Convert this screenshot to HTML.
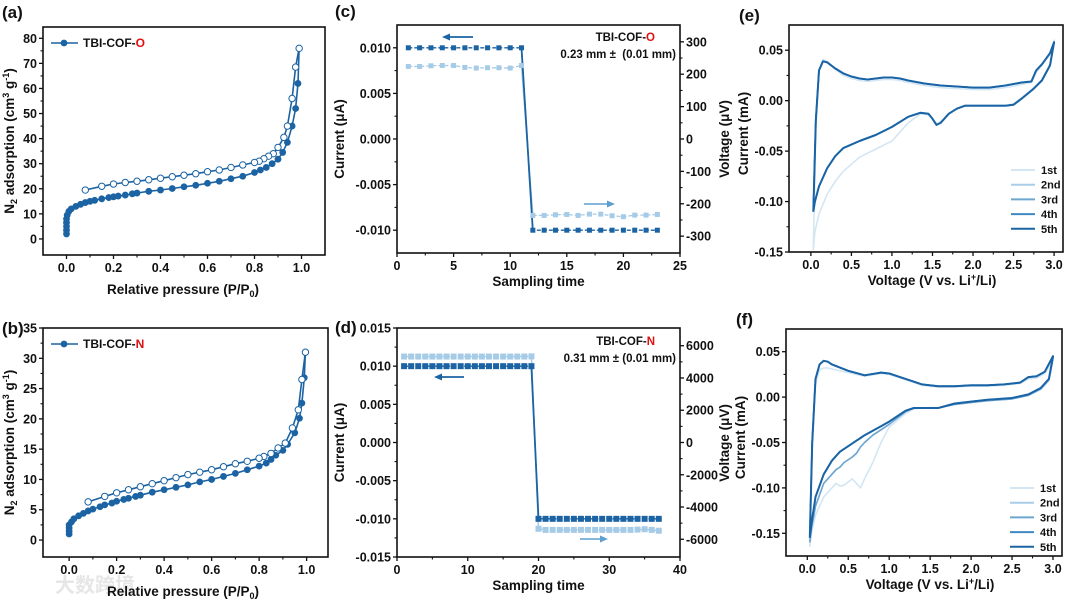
<!DOCTYPE html>
<html><head><meta charset="utf-8">
<style>
html,body{margin:0;padding:0;background:#fff;}
svg{display:block;font-family:"Liberation Sans",Arial,"Noto Sans CJK SC",sans-serif;font-weight:bold;}
</style></head>
<body>
<svg id="fig" width="1080" height="606" viewBox="0 0 1080 606" xmlns="http://www.w3.org/2000/svg">
<text x="55" y="592" font-size="20" fill="#e6e6e6">大数跨境</text>
</svg>
<script>
// ---------- Panel (a) data ----------
const aAdsX=[0,0,0,0,0,0.003,0.01,0.02,0.04,0.06,0.08,0.1,0.12,0.15,0.18,0.2,0.22,0.25,0.28,0.3,0.35,0.4,0.45,0.5,0.55,0.6,0.65,0.7,0.75,0.8,0.825,0.85,0.875,0.9,0.92,0.94,0.96,0.975,0.985,0.99];
const aAdsY=[2,3.5,5,6.5,8,9.5,11,12,13,13.8,14.5,15,15.4,16,16.5,16.8,17.1,17.5,18,18.3,19,19.5,20.1,20.8,21.4,22.2,23,24,25,26.5,27.5,28.5,30,31.8,34.5,38.5,45,52,62,76];
const aDesX=[0.99,0.975,0.96,0.94,0.925,0.9,0.88,0.86,0.84,0.82,0.8,0.75,0.7,0.65,0.6,0.55,0.5,0.45,0.4,0.35,0.3,0.25,0.2,0.15,0.08];
const aDesY=[76,68.5,56,45,40.5,36.5,34,33,32,31,30.5,29.5,28.5,27.5,26.8,26,25.4,24.8,24.2,23.6,23,22.5,21.9,21,19.5];
const aXTicks=[0,0.2,0.4,0.6,0.8,1.0];
const aXLabels=["0.0","0.2","0.4","0.6","0.8","1.0"];
const aYTicks=[0,10,20,30,40,50,60,70,80];
const aYLabels=["0","10","20","30","40","50","60","70","80"];
// ---------- Panel (b) data ----------
const bAdsX=[0,0,0,0,0.01,0.02,0.04,0.06,0.08,0.1,0.13,0.15,0.18,0.2,0.23,0.25,0.28,0.3,0.35,0.4,0.45,0.5,0.55,0.6,0.65,0.7,0.75,0.8,0.83,0.85,0.87,0.9,0.92,0.95,0.97,0.98,0.99,0.995];
const bAdsY=[1,1.5,2,2.5,3,3.5,4,4.4,4.8,5.1,5.5,5.8,6.1,6.4,6.7,6.9,7.2,7.4,7.9,8.3,8.7,9.1,9.6,10,10.5,11,11.6,12.2,12.7,13.3,14,14.8,15.8,17.7,20.1,22.6,26.8,31];
const bDesX=[0.995,0.98,0.965,0.94,0.91,0.88,0.85,0.82,0.8,0.75,0.7,0.65,0.6,0.55,0.5,0.45,0.4,0.35,0.3,0.25,0.2,0.15,0.08];
const bDesY=[31,26.5,21.5,18.5,16,15.2,14.3,13.8,13.5,13,12.6,12.1,11.6,11.2,10.8,10.3,9.8,9.3,8.8,8.3,7.8,7.2,6.3];
const bYTicks=[0,5,10,15,20,25,30,35];
const bYLabels=["0","5","10","15","20","25","30","35"];
// ---------- Panel (c) data ----------
const cT=[1,2,3,4,5,6,7,8,9,10,11,12,13,14,15,16,17,18,19,20,21,22,23];
const cCurrent=[0.01,0.01,0.01,0.01,0.01,0.01,0.01,0.01,0.01,0.01,0.01,-0.01,-0.01,-0.01,-0.01,-0.01,-0.01,-0.01,-0.01,-0.01,-0.01,-0.01,-0.01];
const cVoltage=[224,224,226,227,227,221,219,220,220,219,227,-236,-236,-234,-233,-236,-232,-232,-237,-240,-235,-235,-233];
const cXTicks=[0,5,10,15,20,25];
const cYTicks=[0.01,0.005,0,-0.005,-0.01];
const cYLabels=["0.010","0.005","0.000","-0.005","-0.010"];
const cRTicks=[300,200,100,0,-100,-200,-300];
const cRLabels=["300","200","100","0","-100","-200","-300"];
// ---------- Panel (d) data ----------
const dT=[1,2,3,4,5,6,7,8,9,10,11,12,13,14,15,16,17,18,19,20,21,22,23,24,25,26,27,28,29,30,31,32,33,34,35,36,37];
const dCurrent=[0.01,0.01,0.01,0.01,0.01,0.01,0.01,0.01,0.01,0.01,0.01,0.01,0.01,0.01,0.01,0.01,0.01,0.01,0.01,-0.01,-0.01,-0.01,-0.01,-0.01,-0.01,-0.01,-0.01,-0.01,-0.01,-0.01,-0.01,-0.01,-0.01,-0.01,-0.01,-0.01,-0.01];
const dVoltage=[5330,5330,5330,5330,5330,5330,5330,5330,5330,5330,5330,5330,5330,5330,5330,5330,5330,5330,5340,-5350,-5420,-5420,-5420,-5420,-5420,-5420,-5420,-5420,-5420,-5420,-5420,-5420,-5420,-5400,-5380,-5420,-5470];
const dXTicks=[0,10,20,30,40];
const dYTicks=[0.015,0.01,0.005,0,-0.005,-0.01,-0.015];
const dYLabels=["0.015","0.010","0.005","0.000","-0.005","-0.010","-0.015"];
const dRTicks=[6000,4000,2000,0,-2000,-4000,-6000];
const dRLabels=["6000","4000","2000","0","-2000","-4000","-6000"];
// ---------- Panel (e) data ----------
const eUpV=[0.03,0.06,0.1,0.15,0.2,0.3,0.4,0.5,0.6,0.7,0.8,0.9,1.0,1.1,1.2,1.4,1.6,1.8,2.0,2.2,2.4,2.6,2.72,2.78,2.85,2.95,3.0];
const eUpI5=[-0.11,-0.02,0.03,0.039,0.038,0.032,0.027,0.024,0.022,0.021,0.022,0.023,0.023,0.022,0.02,0.017,0.015,0.014,0.013,0.013,0.015,0.018,0.019,0.03,0.036,0.047,0.058];
const eUpI1=[-0.148,-0.03,0.03,0.041,0.039,0.031,0.025,0.022,0.02,0.019,0.02,0.021,0.021,0.02,0.018,0.015,0.013,0.012,0.011,0.011,0.013,0.016,0.018,0.028,0.035,0.046,0.06];
const eLoV=[3.0,2.95,2.85,2.75,2.6,2.5,2.4,2.2,2.0,1.9,1.8,1.7,1.6,1.55,1.5,1.45,1.35,1.2,1.0,0.8,0.6,0.4,0.3,0.2,0.1,0.05,0.03];
const eLoI5=[0.058,0.035,0.02,0.012,0.002,-0.004,-0.005,-0.005,-0.005,-0.005,-0.008,-0.013,-0.022,-0.024,-0.018,-0.013,-0.012,-0.016,-0.026,-0.034,-0.04,-0.047,-0.055,-0.067,-0.085,-0.1,-0.11];
const eLoI1=[0.06,0.036,0.021,0.013,0.003,-0.003,-0.005,-0.005,-0.005,-0.005,-0.008,-0.013,-0.021,-0.023,-0.018,-0.014,-0.013,-0.022,-0.04,-0.048,-0.056,-0.07,-0.08,-0.093,-0.112,-0.13,-0.148];
const eXTicks=[0,0.5,1,1.5,2,2.5,3];
const eXLabels=["0.0","0.5","1.0","1.5","2.0","2.5","3.0"];
const eYTicks=[0.05,0,-0.05,-0.1,-0.15];
const eYLabels=["0.05","0.00","-0.05","-0.10","-0.15"];
// ---------- Panel (f) data ----------
const fUpV=[0.03,0.06,0.1,0.15,0.2,0.25,0.3,0.5,0.7,0.9,1.0,1.2,1.4,1.6,1.8,2.0,2.2,2.4,2.6,2.7,2.8,2.9,3.0];
const fUpI5=[-0.155,-0.05,0.02,0.036,0.04,0.039,0.036,0.029,0.024,0.027,0.026,0.02,0.014,0.012,0.012,0.013,0.013,0.014,0.016,0.022,0.023,0.028,0.045];
const fUpI1=[-0.165,-0.06,0.015,0.03,0.032,0.032,0.031,0.027,0.023,0.026,0.025,0.019,0.013,0.011,0.011,0.012,0.012,0.013,0.015,0.02,0.021,0.026,0.04];
const fLoV=[3.0,2.95,2.85,2.7,2.5,2.2,2.0,1.8,1.6,1.4,1.3,1.2,1.0,0.9,0.8,0.7,0.65,0.6,0.55,0.45,0.4,0.35,0.3,0.2,0.1,0.05,0.03];
const fLoI5=[0.045,0.02,0.01,0.003,-0.001,-0.003,-0.005,-0.007,-0.012,-0.012,-0.012,-0.015,-0.027,-0.032,-0.037,-0.042,-0.045,-0.048,-0.051,-0.057,-0.06,-0.065,-0.07,-0.085,-0.11,-0.14,-0.155];
const fLoI2=[0.043,0.019,0.009,0.002,-0.002,-0.004,-0.006,-0.008,-0.012,-0.012,-0.012,-0.016,-0.03,-0.036,-0.042,-0.05,-0.055,-0.062,-0.066,-0.072,-0.077,-0.08,-0.085,-0.095,-0.12,-0.145,-0.16];
const fLoI1=[0.04,0.018,0.008,0.002,-0.002,-0.004,-0.006,-0.008,-0.012,-0.012,-0.013,-0.018,-0.033,-0.05,-0.072,-0.09,-0.1,-0.095,-0.09,-0.097,-0.098,-0.095,-0.1,-0.11,-0.13,-0.15,-0.165];
const fYTicks=[0.05,0,-0.05,-0.1,-0.15];
const fYLabels=["0.05","0.00","-0.05","-0.10","-0.15"];

const DARK="#1b63a3", LIGHT="#a6cbe6";
const CV=["#d3e6f4","#a9cde8","#6fa6d0","#3f88c3","#1a64a6"];
const svg=document.getElementById('fig');
const NS="http://www.w3.org/2000/svg";
function mk(tag,attrs,name,inter){
  const el=document.createElementNS(NS,tag);
  for(const k in attrs) el.setAttribute(k,attrs[k]);
  
  
  svg.appendChild(el);return el;
}
function txt(x,y,s,size,anchor,name,extra){
  const t=mk('text',Object.assign({x:x,y:y,'font-size':size,'text-anchor':anchor||'start',fill:'#111'},extra||{}),name,false);
  t.innerHTML=s;return t;
}
function scX(p,v){return p.x0+(v-p.xmin)/(p.xmax-p.xmin)*(p.x1-p.x0);}
function scY(p,v){return p.y1-(v-p.ymin)/(p.ymax-p.ymin)*(p.y1-p.y0);}
function scR(p,v){return p.y1-(v-p.rmin)/(p.rmax-p.rmin)*(p.y1-p.y0);}
function frame(p,id){
  mk('rect',{x:p.x0,y:p.y0,width:p.x1-p.x0,height:p.y1-p.y0,fill:'none',stroke:'#111','stroke-width':1.6},id+'-plot-frame',false);
}
function xAxis(p,ticks,labels,id){
  ticks.forEach((v,i)=>{const x=scX(p,v);
    mk('line',{x1:x,x2:x,y1:p.y1,y2:p.y1+4,stroke:'#111','stroke-width':1.3},id+'-x-tick',false);
    txt(x,p.y1+17,labels[i],12.5,'middle',id+'-x-tick-label');
    if(i<ticks.length-1){const xm=scX(p,(v+ticks[i+1])/2);
      mk('line',{x1:xm,x2:xm,y1:p.y1,y2:p.y1+2.5,stroke:'#111','stroke-width':1.1},id+'-x-minor-tick',false);}
  });
}
function yAxis(p,ticks,labels,id){
  ticks.forEach((v,i)=>{const y=scY(p,v);
    mk('line',{x1:p.x0-4,x2:p.x0,y1:y,y2:y,stroke:'#111','stroke-width':1.3},id+'-y-tick',false);
    txt(p.x0-6,y+4.5,labels[i],12.5,'end',id+'-y-tick-label');
    if(i<ticks.length-1){const ym=scY(p,(v+ticks[i+1])/2);
      mk('line',{x1:p.x0-2.5,x2:p.x0,y1:ym,y2:ym,stroke:'#111','stroke-width':1.1},id+'-y-minor-tick',false);}
  });
}
function rAxis(p,ticks,labels,id){
  ticks.forEach((v,i)=>{const y=scR(p,v);
    mk('line',{x1:p.x1,x2:p.x1+4,y1:y,y2:y,stroke:'#111','stroke-width':1.3},id+'-right-tick',false);
    txt(p.x1+6,y+4.5,labels[i],12.5,'start',id+'-right-tick-label');
    if(i<ticks.length-1){const ym=scR(p,(v+ticks[i+1])/2);
      mk('line',{x1:p.x1,x2:p.x1+2.5,y1:ym,y2:ym,stroke:'#111','stroke-width':1.1},id+'-right-minor-tick',false);}
  });
}
function ytitle(x,y,s,id){txt(0,0,s,13.5,'middle',id,{transform:'translate('+x+','+y+') rotate(-90)'});}
function poly(pts,attrs,name){mk('polyline',Object.assign({points:pts.map(q=>q[0].toFixed(1)+','+q[1].toFixed(1)).join(' '),fill:'none'},attrs),name,false);}

// ===== (a) =====
const pa={x0:43,x1:325,y0:27,y1:255,xmin:-0.1,xmax:1.1,ymin:-6.4,ymax:84.5};
// ===== (b) =====
const pb={x0:43,x1:328,y0:328,y1:557,xmin:-0.11,xmax:1.09,ymin:-2.8,ymax:35};
function iso(p,ax,ay,dx,dy,xt,xl,yt,yl,id,leg,letter,lab){
  frame(p,id);xAxis(p,xt,xl,id);yAxis(p,yt,yl,id);
  poly(ax.map((v,i)=>[scX(p,v),scY(p,ay[i])]),{stroke:DARK,'stroke-width':1.6},id+'-adsorption-line');
  poly(dx.map((v,i)=>[scX(p,v),scY(p,dy[i])]),{stroke:DARK,'stroke-width':1.6},id+'-desorption-line');
  ax.forEach((v,i)=>mk('circle',{cx:scX(p,v),cy:scY(p,ay[i]),r:3.4,fill:DARK},id+'-adsorption-point',false));
  dx.forEach((v,i)=>mk('circle',{cx:scX(p,v),cy:scY(p,dy[i]),r:3.2,fill:'#fff',stroke:DARK,'stroke-width':1},id+'-desorption-point',false));
  mk('line',{x1:p.x0+8,x2:p.x0+35,y1:leg,y2:leg,stroke:DARK,'stroke-width':1.6},id+'-legend-line',false);
  mk('circle',{cx:p.x0+21,cy:leg,r:3.4,fill:DARK},id+'-legend-marker',false);
  txt(p.x0+40,leg+4,'TBI-COF-<tspan fill="#e01010">'+letter+'</tspan>',12,'start',id+'-legend-label');
  txt(p.x0+140,p.y1+39,'Relative pressure (P/P<tspan font-size="9" dy="3">0</tspan><tspan dy="-3">)</tspan>',13.5,'middle',id+'-x-axis-title');
  ytitle(p.x0-29,(p.y0+p.y1)/2,'N<tspan font-size="9" dy="3">2</tspan><tspan dy="-3"> adsorption (cm</tspan><tspan font-size="9" dy="-5">3</tspan><tspan dy="5"> g</tspan><tspan font-size="9" dy="-5">-1</tspan><tspan dy="5">)</tspan>',id+'-y-axis-title');
  txt(2,p.y0+(id==='panel-a'?-9:6),'('+lab+')',17,'start',id+'-label');
}
iso(pa,aAdsX,aAdsY,aDesX,aDesY,aXTicks,aXLabels,aYTicks,aYLabels,'panel-a',43,'O','a');
iso(pb,bAdsX,bAdsY,bDesX,bDesY,aXTicks,aXLabels,bYTicks,bYLabels,'panel-b',344,'N','b');

// ===== (c),(d) =====
const pc={x0:397,x1:680,y0:25,y1:253,xmin:0,xmax:25,ymin:-0.0125,ymax:0.0125,rmin:-352,rmax:352};
const pd={x0:397,x1:680,y0:328,y1:557,xmin:0,xmax:40,ymin:-0.015,ymax:0.015,rmin:-7100,rmax:7100};
function iv(p,t,cur,vol,xt,yt,yl,rt,rl,id,lab,letter,thick,arrows,annY){
  frame(p,id);xAxis(p,xt,xt.map(String),id);yAxis(p,yt,yl,id);rAxis(p,rt,rl,id);
  const vp=t.map((v,i)=>[scX(p,v),scR(p,vol[i])]);
  const cp=t.map((v,i)=>[scX(p,v),scY(p,cur[i])]);
  poly(vp,{stroke:LIGHT,'stroke-width':1.3,'stroke-dasharray':'4 2'},id+'-voltage-line');
  poly(cp,{stroke:DARK,'stroke-width':1.3,'stroke-dasharray':'4 2'},id+'-current-line');
  for(let i=0;i<t.length-1;i++){ if(cur[i]*cur[i+1]<0){
    poly([vp[i],vp[i+1]],{stroke:LIGHT,'stroke-width':1.5},id+'-voltage-jump');
    poly([cp[i],cp[i+1]],{stroke:DARK,'stroke-width':1.8},id+'-current-jump');}}
  const s=thick;
  vp.forEach(q=>mk('rect',{x:q[0]-s/2,y:q[1]-s/2,width:s,height:s,fill:LIGHT},id+'-voltage-point',false));
  cp.forEach(q=>mk('rect',{x:q[0]-s/2,y:q[1]-s/2,width:s,height:s,fill:DARK},id+'-current-point',false));
  const a1=arrows[0],a2=arrows[1];
  mk('line',{x1:a1[0]+5,x2:a1[1],y1:a1[2],y2:a1[2],stroke:DARK,'stroke-width':1.8},id+'-current-arrow',false);
  mk('polygon',{points:a1[0]+','+a1[2]+' '+(a1[0]+8)+','+(a1[2]-3.5)+' '+(a1[0]+8)+','+(a1[2]+3.5),fill:DARK},id+'-current-arrowhead',false);
  mk('line',{x1:a2[0],x2:a2[1]-5,y1:a2[2],y2:a2[2],stroke:'#5d9fd0','stroke-width':1.5},id+'-voltage-arrow',false);
  mk('polygon',{points:a2[1]+','+a2[2]+' '+(a2[1]-8)+','+(a2[2]-3.5)+' '+(a2[1]-8)+','+(a2[2]+3.5),fill:'#5d9fd0'},id+'-voltage-arrowhead',false);
  txt(p.x1-25,annY,'TBI-COF-<tspan fill="#e01010">'+letter+'</tspan>',11.5,'end',id+'-sample-label');
  txt(p.x1-4,annY+17,(id==='panel-c'?'0.23 mm ± &#160;(0.01 mm)':'0.31 mm ± (0.01 mm)'),11.5,'end',id+'-thickness-label');
  txt((p.x0+p.x1)/2,p.y1+33,'Sampling time',13.5,'middle',id+'-x-axis-title');
  ytitle(p.x0-53,(p.y0+p.y1)/2,'Current (μA)',id+'-y-axis-title');
  txt(p.x0-62,p.y0+(id==='panel-c'?-8:5),'('+lab+')',17,'start',id+'-label');
}
iv(pc,cT,cCurrent,cVoltage,cXTicks,cYTicks,cYLabels,cRTicks,cRLabels,'panel-c','c','O',5,[[442,473,37],[584,615,204]],41);
iv(pd,dT,dCurrent,dVoltage,dXTicks,dYTicks,dYLabels,dRTicks,dRLabels,'panel-d','d','N',6,[[434,464,377],[580,608,539]],345);
ytitle(729,139,'Voltage (μV)','panel-c-right-axis-title');
ytitle(729,443,'Voltage (μV)','panel-d-right-axis-title');

// ===== (e),(f) =====
const pe={x0:789,x1:1063,y0:25,y1:252,xmin:-0.27,xmax:3.11,ymin:-0.15,ymax:0.075};
const pf={x0:786,x1:1062,y0:329,y1:556,xmin:-0.26,xmax:3.11,ymin:-0.175,ymax:0.075};
function cv(p,upV,ups,loV,los,yt,yl,id,lab,legY){
  frame(p,id);xAxis(p,eXTicks,eXLabels,id);yAxis(p,yt,yl,id);
  const names=['1st','2nd','3rd','4th','5th'];
  for(let k=0;k<5;k++){
    const pts=upV.map((v,i)=>[scX(p,v),scY(p,ups[k][i])]).concat(loV.map((v,i)=>[scX(p,v),scY(p,los[k][i])]));
    poly(pts,{stroke:CV[k],'stroke-width':k===4?2:1.6,'stroke-linejoin':'round'},id+'-cycle-'+names[k]+'-curve');
    const y=legY+k*14.7;
    mk('line',{x1:p.x1-52,x2:p.x1-28,y1:y,y2:y,stroke:CV[k],'stroke-width':2},id+'-legend-line-'+names[k],false);
    txt(p.x1-22,y+4,names[k],11,'start',id+'-legend-label-'+names[k]);
  }
  txt((p.x0+p.x1)/2+6,p.y1+33,'Voltage (V vs. Li<tspan font-size="9" dy="-5">+</tspan><tspan dy="5">/Li)</tspan>',13.5,'middle',id+'-x-axis-title');
  ytitle(p.x0-41,(p.y0+p.y1)/2-5,'Current (mA)',id+'-y-axis-title');
  txt(p.x0-50,p.y0-4,'('+lab+')',17,'start',id+'-label');
}
cv(pe,eUpV,[eUpI1,eUpI5,eUpI5,eUpI5,eUpI5],eLoV,[eLoI1,eLoI5,eLoI5,eLoI5,eLoI5],eYTicks,eYLabels,'panel-e','e',170);
cv(pf,fUpV,[fUpI1,fUpI5,fUpI5,fUpI5,fUpI5],fLoV,[fLoI1,fLoI2,fLoI2,fLoI5,fLoI5],fYTicks,fYLabels,'panel-f','f',488);
</script>
</body></html>
